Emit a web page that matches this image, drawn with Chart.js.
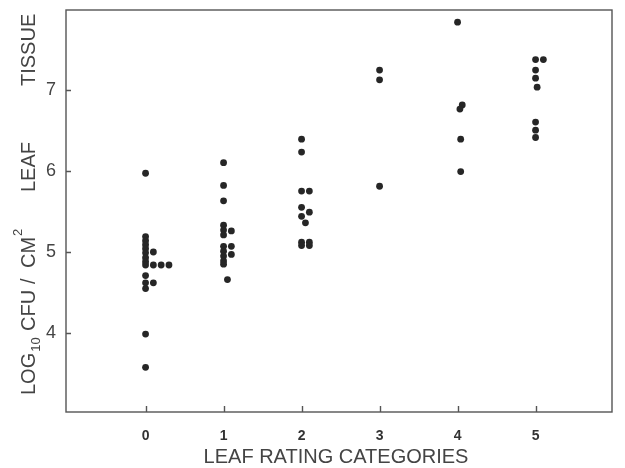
<!DOCTYPE html>
<html>
<head>
<meta charset="utf-8">
<script src="https://cdn.jsdelivr.net/npm/chart.js@4.4.1/dist/chart.umd.min.js"></script>
<style>
  html, body { margin: 0; padding: 0; background: #fff; }
  #wrap { width: 625px; height: 468px; }
</style>
</head>
<body>
<div id="wrap"><canvas id="dotChart" width="625" height="468"></canvas></div>
<script>
// leaf rating categories (x) and log10 CFU/cm2 readings (y)
const categories = [0, 1, 2, 3, 4, 5];
const yTicks = [4, 5, 6, 7];

// values per category, and the column slot each dot was stacked in
const cat0Values = [5.97, 5.19, 5.14, 5.09, 5.04, 4.99, 4.93, 4.88, 4.84, 4.71, 4.62, 4.55, 3.99, 3.58, 5.00, 4.84, 4.62, 4.84, 4.84];
const cat0Slots  = [0, 0, 0, 0, 0, 0, 0, 0, 0, 0, 0, 0, 0, 0, 1, 1, 1, 2, 3];
const cat1Values = [6.10, 5.82, 5.63, 5.33, 5.27, 5.21, 5.07, 5.01, 4.95, 4.89, 4.85, 5.26, 5.07, 4.97, 4.66];
const cat1Slots  = [0, 0, 0, 0, 0, 0, 0, 0, 0, 0, 0, 1, 1, 1, 0.5];
const cat2Values = [6.39, 6.23, 5.75, 5.55, 5.44, 5.12, 5.08, 5.75, 5.49, 5.36, 5.12, 5.08];
const cat2Slots  = [0, 0, 0, 0, 0, 0, 0, 1, 1, 0.5, 1, 1];
const cat3Values = [7.24, 7.12, 5.81];
const cat3Slots  = [0, 0, 0];
const cat4Values = [7.83, 6.81, 6.76, 6.39, 5.99];
const cat4Slots  = [0, 0.6, 0.3, 0.4, 0.4];
const cat5Values = [7.37, 7.37, 7.24, 7.14, 7.03, 6.60, 6.50, 6.41];
const cat5Slots  = [0, 1, 0, 0, 0.2, 0, 0, 0];

const allValues = [cat0Values, cat1Values, cat2Values, cat3Values, cat4Values, cat5Values];
const allSlots = [cat0Slots, cat1Slots, cat2Slots, cat3Slots, cat4Slots, cat5Slots];
const SLOT = 0.1; // width of one dot, in category units

const points = [];
categories.forEach((c, i) => {
  allValues[i].forEach((v, j) => points.push({ x: c + allSlots[i][j] * SLOT, y: v }));
});

const INK = '#262626';
const AXIS = '#555';
const FONT = '"Liberation Sans", Arial, sans-serif';

// frame, inward tick marks and the axis titles (sub/superscripts need manual drawing)
const framePlugin = {
  id: 'frame',
  afterDraw(chart) {
    const { ctx, chartArea: a, scales } = chart;
    ctx.save();
    ctx.strokeStyle = AXIS;
    ctx.lineWidth = 1.4;
    ctx.strokeRect(a.left, a.top, a.right - a.left, a.bottom - a.top);

    ctx.beginPath();
    yTicks.forEach(t => {
      const y = Math.round(scales.y.getPixelForValue(t)) + 0.5;
      ctx.moveTo(a.left, y); ctx.lineTo(a.left + 5, y);
    });
    categories.forEach(c => {
      const x = Math.round(scales.x.getPixelForValue(c)) + 0.5;
      ctx.moveTo(x, a.bottom); ctx.lineTo(x, a.bottom - 6);
    });
    ctx.stroke();

    // x title
    ctx.fillStyle = '#444';
    ctx.font = '20px ' + FONT;
    ctx.textAlign = 'center';
    ctx.textBaseline = 'alphabetic';
    ctx.fillText('LEAF RATING CATEGORIES', 336, 463);

    // y title, rotated; each word starts at its own spot along the axis
    ctx.translate(35, 0);
    ctx.rotate(-Math.PI / 2);
    ctx.textAlign = 'left';
    const big = '20px ' + FONT;
    const small = '13px ' + FONT;
    const words = [
      { t: 'LOG', at: 395 },
      { t: '10', sub: 5 },
      { t: 'CFU', at: 331 },
      { t: '/', at: 284 },
      { t: 'CM', at: 268 },
      { t: '2', sub: -13 },
      { t: 'LEAF', at: 192 },
      { t: 'TISSUE', at: 86 }
    ];
    let pos = 0;
    words.forEach(w => {
      if (w.sub !== undefined) {
        ctx.font = small;
        ctx.fillText(w.t, pos + 1, w.sub);
        pos += ctx.measureText(w.t).width + 1;
      } else {
        ctx.font = big;
        pos = -w.at;
        ctx.fillText(w.t, pos, 0);
        pos += ctx.measureText(w.t).width;
      }
    });
    ctx.restore();
  }
};

new Chart(document.getElementById('dotChart'), {
  type: 'scatter',
  data: {
    datasets: [{
      data: points,
      backgroundColor: INK,
      borderColor: INK,
      borderWidth: 0,
      pointRadius: 3.4,
      pointHoverRadius: 3.4
    }]
  },
  options: {
    responsive: false,
    animation: false,
    layout: { padding: { top: 10, right: 13, left: 0, bottom: 0 } },
    plugins: { legend: { display: false }, tooltip: { enabled: false } },
    scales: {
      x: {
        type: 'linear',
        min: -1.02,
        max: 5.98,
        afterFit: s => { s.height = 56; s.paddingLeft = 0; s.paddingRight = 0; },
        grid: { display: false, drawTicks: false },
        border: { display: false },
        afterBuildTicks: s => { s.ticks = categories.map(v => ({ value: v })); },
        ticks: {
          padding: 16,
          color: '#333',
          font: { family: FONT, size: 14, weight: 'bold' },
          maxRotation: 0
        }
      },
      y: {
        type: 'linear',
        min: 3.03,
        max: 7.98,
        afterFit: s => { s.width = 66; s.paddingTop = 0; s.paddingBottom = 0; },
        grid: { display: false, drawTicks: false },
        border: { display: false },
        afterBuildTicks: s => { s.ticks = yTicks.map(v => ({ value: v })); },
        ticks: {
          padding: 10,
          color: '#444',
          font: { family: FONT, size: 18 }
        }
      }
    }
  },
  plugins: [framePlugin]
});
</script>
</body>
</html>
